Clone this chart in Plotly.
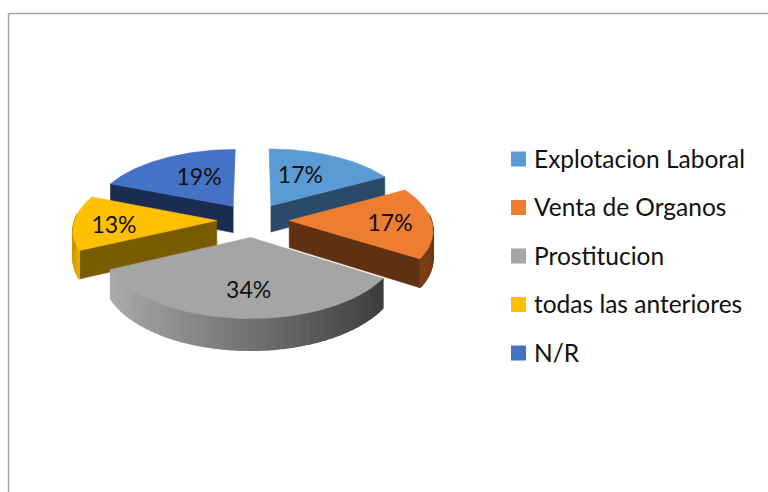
import numpy as np
import plotly.graph_objects as go

categories = ["Explotacion Laboral", "Venta de Organos", "Prostitucion", "todas las anteriores", "N/R"]
values = [17, 17, 34, 13, 19]
top_colors = ["#5b9bd5", "#ed7d31", "#a5a5a5", "#ffc000", "#4472c4"]
wall_colors = ["#2a4a69", "#5f3112", "#6a6a6a", "#7a5c00", "#1a2c52"]
rim_left = ["#2a4a69", "#7a4015", "#ababab", "#e8ae00", "#1a2c52"]
rim_right = ["#2a4a69", "#5f3112", "#3c3c3c", "#b98b00", "#1a2c52"]

# pie geometry, in pixels of the 768x492 page
CX, CY = 253, 220
RADIUS = 142
TILT = 0.47
PERSP = 0.12
DEPTH = 27
EXPLODE = 0.255
LABEL_R = [0.48, 0.7, 0.68, 0.7, 0.47]
LABEL_NUDGE = [(-2, -4), (1, 3), (5, 2), (-3, 5), (0, -3)]
FONT = "Lato"
LABEL_SIZE = 23
KEY_SIZE = 24.5


def project(sx, sy, low=False):
    """Flat pie coordinates (y forward) to page pixels."""
    scale = 1 / (1 - PERSP * sy)
    px = CX + RADIUS * sx * scale
    py = CY + TILT * RADIUS * sy * scale + (DEPTH * scale if low else 0)
    return px, py


def slice_point(theta, mid, r=1.0, low=False):
    sx = EXPLODE * np.sin(mid) + r * np.sin(theta)
    sy = -EXPLODE * np.cos(mid) - r * np.cos(theta)
    return project(sx, sy, low)


def polygon(fig, points, color, edge=0.6):
    xs, ys = zip(*points)
    fig.add_trace(go.Scatter(
        x=list(xs) + [xs[0]], y=list(ys) + [ys[0]],
        mode="lines", fill="toself", fillcolor=color,
        line=dict(color=color, width=edge),
        hoverinfo="skip", showlegend=False,
    ))


def mix(c1, c2, t):
    a = [int(c1[i:i + 2], 16) for i in (1, 3, 5)]
    b = [int(c2[i:i + 2], 16) for i in (1, 3, 5)]
    return "rgb({},{},{})".format(*[round(p + (q - p) * t) for p, q in zip(a, b)])


fractions = np.cumsum([0] + values) / sum(values) * 2 * np.pi
fig = go.Figure()

# back slices first so the front ones cover them
for i in [0, 4, 1, 3, 2]:
    start, end = fractions[i], fractions[i + 1]
    mid = (start + end) / 2

    # cut faces that look towards the viewer
    if i in (0, 1):
        polygon(fig, [slice_point(end, mid, 0), slice_point(end, mid),
                      slice_point(end, mid, low=True), slice_point(end, mid, 0, low=True)], wall_colors[i])
    if i in (3, 4):
        polygon(fig, [slice_point(start, mid, 0), slice_point(start, mid),
                      slice_point(start, mid, low=True), slice_point(start, mid, 0, low=True)], wall_colors[i])

    # outer rim, shaded in short strips
    lo, hi = max(start, np.pi / 2 - 0.1), min(end, 3 * np.pi / 2 + 0.1)
    if hi > lo:
        steps = np.linspace(lo, hi, 41)
        for a, b in zip(steps[:-1], steps[1:]):
            centre = (a + b) / 2
            if i == 2:
                # grey one darkens evenly from left to right across the page
                t = (np.sin(centre) - np.sin(hi)) / (np.sin(lo) - np.sin(hi))
            elif i == 3:
                t = (centre - lo) / (hi - lo)
            else:
                t = (hi - centre) / (hi - lo)
            polygon(fig, [slice_point(a, mid), slice_point(b, mid),
                          slice_point(b, mid, low=True), slice_point(a, mid, low=True)],
                    mix(rim_left[i], rim_right[i], t), edge=1.4)

    # top face
    arc = np.linspace(start, end, 60)
    polygon(fig, [slice_point(start, mid, 0)] + [slice_point(a, mid) for a in arc], top_colors[i])

# percentage labels
for i, cat in enumerate(categories):
    mid = (fractions[i] + fractions[i + 1]) / 2
    lx, ly = slice_point(mid, mid, LABEL_R[i])
    fig.add_trace(go.Scatter(
        x=[lx + LABEL_NUDGE[i][0]], y=[ly + LABEL_NUDGE[i][1]], mode="text", text=[f"{values[i]}%"],
        textposition="middle center",
        textfont=dict(family=FONT, size=LABEL_SIZE, color="#111111"),
        hoverinfo="skip", showlegend=False,
    ))

# colour key on the right
for i, cat in enumerate(categories):
    key_y = 159 + i * 48.5
    fig.add_trace(go.Scatter(
        x=[518.5], y=[key_y], mode="markers",
        marker=dict(symbol="square", size=15, color=top_colors[i]),
        name=cat, hoverinfo="skip", showlegend=False,
    ))
    fig.add_annotation(
        x=532, y=key_y - 1, text=cat, showarrow=False, xanchor="left", yanchor="middle",
        font=dict(family=FONT, size=KEY_SIZE, color="#111111"),
    )

fig.update_layout(
    width=768, height=492,
    margin=dict(l=0, r=0, t=0, b=0),
    paper_bgcolor="white", plot_bgcolor="white",
    showlegend=False,
    shapes=[
        dict(type="line", xref="x", yref="y", x0=8.5, x1=8.5, y0=13.5, y1=492, line=dict(color="#a6a6a6", width=1.5)),
        dict(type="line", xref="x", yref="y", x0=8.5, x1=768, y0=13.5, y1=13.5, line=dict(color="#a6a6a6", width=1.5)),
    ],
)
fig.update_xaxes(range=[0, 768], visible=False)
fig.update_yaxes(range=[492, 0], visible=False)

fig.write_html("out.html", config=dict(displayModeBar=False),
               post_script="document.body.style.margin='0';")
